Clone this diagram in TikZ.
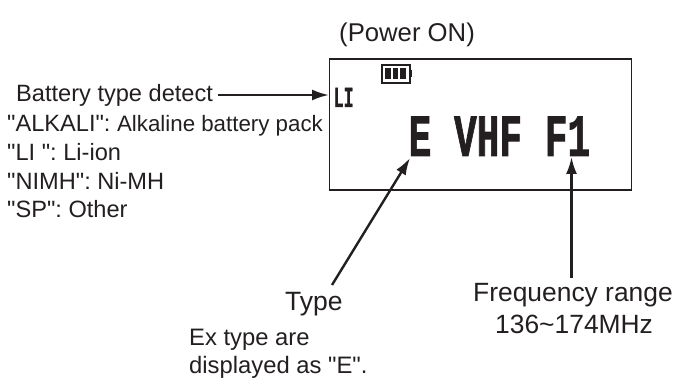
\documentclass[tikz,border=0pt]{standalone}
\usepackage{fontspec}
\setmainfont{Liberation Sans}
\newfontfamily\plainfont{Liberation Sans}
\newfontfamily\lcdfont{Liberation Mono}[BoldFont=* Bold,BoldFeatures={FakeBold=1.6}]
\usetikzlibrary{arrows.meta}
\definecolor{ink}{HTML}{231F20}
\newcommand{\fsz}[1]{\fontsize{#1}{#1}\selectfont}
\frenchspacing
\tikzset{
  label text/.style={inner sep=0pt,anchor=base west,text=ink,font=\plainfont\fsz{#1}},
  callout/.style={draw=ink,line width=2.4pt,-{Latex[length=17pt,width=11pt]}},
  lcd/.style={inner sep=0pt,anchor=base west,text=ink}
}
\begin{document}
\begin{tikzpicture}[x=1pt,y=-1pt]
\useasboundingbox (0,0) rectangle (677,379);
\node[draw=ink,line width=1.6pt,minimum width=302pt,minimum height=131pt,inner sep=0pt,anchor=north west] (screen) at (328.5,58) {};
\node[label text=25.7] (power) at (339,42) {(Power ON)};
% battery icon
\node[draw=ink,line width=2pt,minimum width=28pt,minimum height=18pt,inner sep=0pt,anchor=north west] (batt) at (381,64.5) {};
\fill[ink] (409.5,70) rectangle (411.5,77);
\fill[ink] (385,68) rectangle (390.5,79);
\fill[ink] (392.5,68) rectangle (398,79);
\fill[ink] (400,68) rectangle (405.5,79);
\node[lcd] (li) at (333.5,107) {\lcdfont\bfseries\fsz{29}\scalebox{0.57}[1]{LI}};
\node[lcd] (main) at (408.5,156) {\lcdfont\bfseries\fsz{60}\scalebox{0.63}[1]{E VHF F1}};
\node[label text=23.6] (detect) at (16,102) {Battery type detect};
\node[label text=23.6] (alkali) at (7,131.7) {"ALKALI": {\fsz{22.3}Alkaline battery pack}};
\node[label text=23.6] (liion) at (7,160.7) {"LI ": Li-ion};
\node[label text=23.6] (nimh) at (7,190) {"NIMH": Ni-MH};
\node[label text=23.6] (sp) at (7,218) {"SP": Other};
\node[label text=26.5] (type) at (285,310.7) {Type};
\node[label text=23.8] (ex1) at (189,345) {Ex type are};
\node[label text=23.8] (ex2) at (189,373) {displayed as "E".};
\node[label text=26.4] (freq) at (473,301.7) {Frequency range};
\node[label text=26.4] (range) at (495,333) {136\textasciitilde 174MHz};
\coordinate (typetip) at (410,158);
\coordinate (typetail) at (332,285);
\coordinate (freqtip) at (571.5,157);
\coordinate (freqtail) at (571.5,278);
\coordinate (detecttip) at (329,95);
\coordinate (detecttail) at (218,95);
\draw[callout] (detecttail) -- (detecttip);
\draw[callout] (typetail) -- (typetip);
\draw[callout] (freqtail) -- (freqtip);
\end{tikzpicture}
\end{document}
